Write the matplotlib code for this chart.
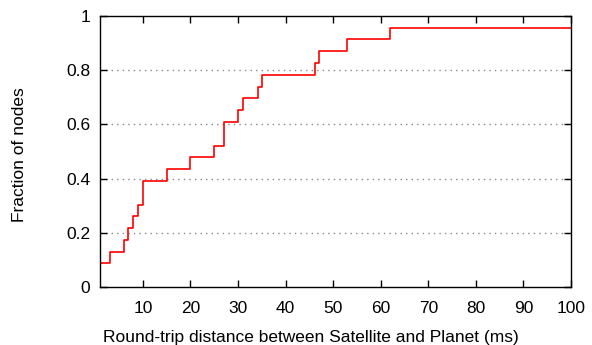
import numpy as np
import matplotlib
matplotlib.use("Agg")
import matplotlib.pyplot as plt

plt.rcParams['font.family'] = ['Liberation Sans', 'DejaVu Sans']

rtt_ms = [0.5, 0.8, 3, 6, 6.9, 8, 9, 10, 10, 15.1, 20, 25, 27, 27, 30, 31,
          34.1, 35.1, 46.1, 47.1, 53, 62]
n_nodes = 23

x_ticks = [10, 20, 30, 40, 50, 60, 70, 80, 90, 100]
y_ticks = [0, 0.2, 0.4, 0.6, 0.8, 1]
y_ticklabels = ["0", "0.2", "0.4", "0.6", "0.8", "1"]

xs = np.sort(np.array(rtt_ms))
frac = np.arange(1, len(xs) + 1) / n_nodes
# start the curve at zero and carry the last level to the right edge
xs = np.concatenate([[xs[0]], xs, [100]])
frac = np.concatenate([[0], frac, [frac[-1]]])

fig = plt.figure(figsize=(5.92, 3.45), dpi=100)
ax = fig.add_axes([0.169, 0.168, 0.7955, 0.786])

ax.step(xs, frac, where='post', color='red', lw=1.2)

ax.set_xlim(1, 100)
ax.set_ylim(0, 1)
ax.set_xticks(x_ticks)
ax.set_yticks(y_ticks)
ax.set_yticklabels(y_ticklabels)
ax.tick_params(direction='in', top=True, right=True, length=5, width=1,
               labelsize=12.5)
ax.tick_params(axis='x', pad=10)
ax.tick_params(axis='y', pad=7)
for g in [0.2, 0.4, 0.6, 0.8]:
    ax.axhline(g, color='#888888', lw=1, ls=(0, (1, 3)), zorder=0)
for s in ax.spines.values():
    s.set_linewidth(1)

ax.set_xlabel("Round-trip distance between Satellite and Planet (ms)", fontsize=12.5)
ax.set_ylabel("Fraction of nodes", fontsize=12.5)
ax.xaxis.set_label_coords(0.448, -0.158)
ax.yaxis.set_label_coords(-0.155, 0.49)

fig.savefig("out.png", dpi=100)
